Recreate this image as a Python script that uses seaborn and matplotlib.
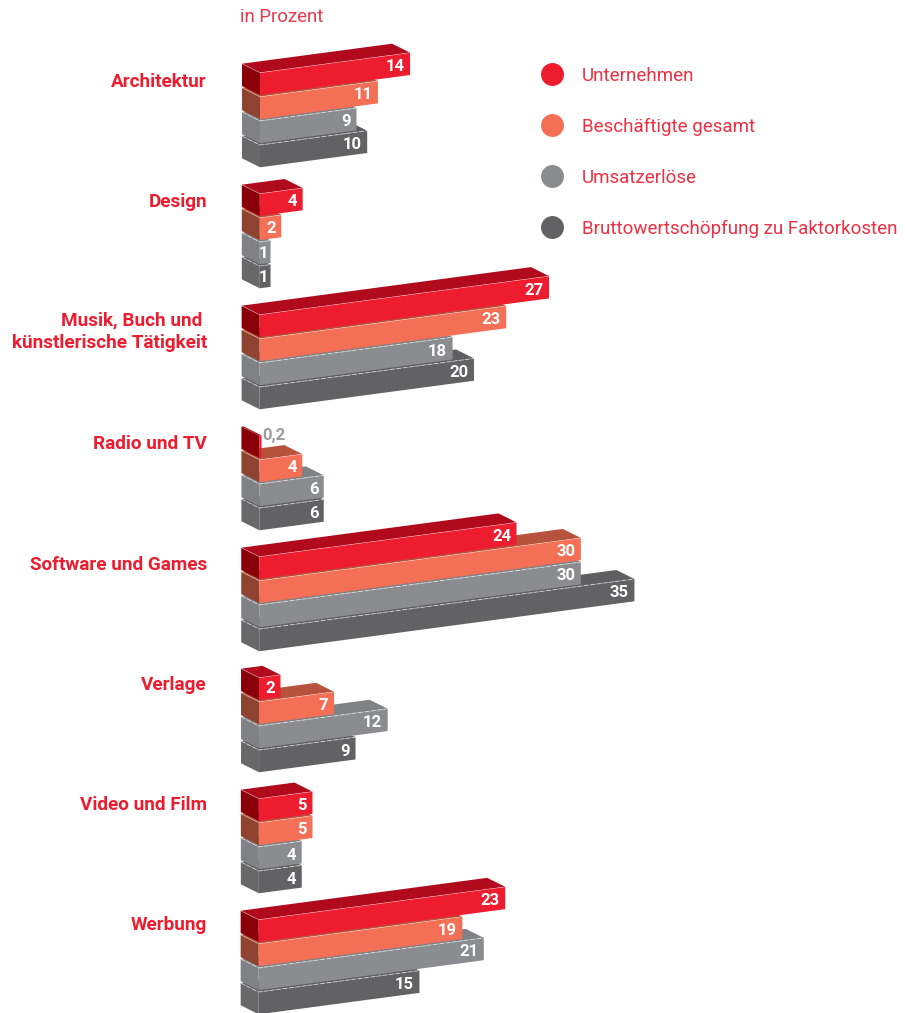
import matplotlib
matplotlib.use("Agg")
import matplotlib.pyplot as plt
from matplotlib.lines import Line2D
from matplotlib.patches import Polygon
from matplotlib.transforms import Affine2D
import pandas as pd
import seaborn as sns

# Anteile der Teilmärkte, in Prozent
kategorien = ["Architektur", "Design", "Musik, Buch und \nkünstlerische Tätigkeit", "Radio und TV",
              "Software und Games", "Verlage", "Video und Film", "Werbung"]
unternehmen = [14, 4, 27, 0.2, 24, 2, 5, 23]
beschaeftigte = [11, 2, 23, 4, 30, 7, 5, 19]
umsatz = [9, 1, 18, 6, 30, 12, 4, 21]
wertschoepfung = [10, 1, 20, 6, 35, 9, 4, 15]

serien = {
    "Unternehmen": unternehmen,
    "Beschäftigte gesamt": beschaeftigte,
    "Umsatzerlöse": umsatz,
    "Bruttowertschöpfung zu Faktorkosten": wertschoepfung,
}
vorne = {"Unternehmen": "#ed1c2e", "Beschäftigte gesamt": "#f36f55",
         "Umsatzerlöse": "#8b8c8f", "Bruttowertschöpfung zu Faktorkosten": "#626264"}
oben = ["#b00a1c", "#b7523c", "#808184", "#5f5f61"]
seite = ["#8a0009", "#8f4230", "#808184", "#68686a"]
akzent = "#ed1c2e"

# Geometrie der Blöcke (Pixel der Zeichenfläche)
PX_JE_EINHEIT = 10.72
X0 = 260.0
Y0 = 72.7
GRUPPE = 121.0
ZEILE = 24.1
HOEHE = 22.3
TIEFE_X = 18.0 / PX_JE_EINHEIT
TIEFE_Y = 9.0
NEIGUNG = -0.1333 * PX_JE_EINHEIT
DRIFT = 0.19 / PX_JE_EINHEIT

sns.set_theme(style="white")
plt.rcParams["font.family"] = ["Roboto", "DejaVu Sans"]

zeilen = []
for s, (name, werte) in enumerate(serien.items()):
    for g, wert in enumerate(werte):
        zeilen.append({"serie": name, "wert": wert, "pos": Y0 + GRUPPE * g + ZEILE * s + HOEHE / 2})
daten = pd.DataFrame(zeilen)

fig = plt.figure(figsize=(9.05, 10.13), dpi=100, facecolor="white")
ax = fig.add_axes([0, 0, 1, 1])

sns.barplot(data=daten, x="wert", y="pos", hue="serie", hue_order=list(serien), palette=vorne,
            orient="h", native_scale=True, dodge=False, width=HOEHE / ZEILE, saturation=1,
            linewidth=0, legend=False, ax=ax)

ax.set_xlim(-X0 / PX_JE_EINHEIT, (905 - X0) / PX_JE_EINHEIT)
ax.set_ylim(1013, 0)
ax.set_axis_off()

for s, container in enumerate(ax.containers):
    for balken in container:
        wert = balken.get_width()
        y1 = balken.get_y()
        y2 = y1 + balken.get_height()
        g = int((y1 - Y0 + 2) // GRUPPE)
        # Scherung der Achse ergibt die perspektivische Schräge; jede Gruppe rückt leicht nach links
        schraeg = Affine2D([[1, 0, -DRIFT * g], [NEIGUNG, 1, 0], [0, 0, 1]]) + ax.transData
        z = 100 - g * 10 - s
        balken.set_transform(schraeg)
        balken.set_zorder(z + 0.5)

        hinten = -TIEFE_Y + NEIGUNG * TIEFE_X
        deckel = [(0, y1), (wert, y1), (wert - TIEFE_X, y1 + hinten), (-TIEFE_X, y1 + hinten)]
        flanke = [(0, y1), (0, y2), (-TIEFE_X, y2 + hinten), (-TIEFE_X, y1 + hinten)]
        ax.add_patch(Polygon(deckel, closed=True, fc=oben[s], ec="none", transform=schraeg, zorder=z))
        ax.add_patch(Polygon(flanke, closed=True, fc=seite[s], ec="none", transform=schraeg, zorder=z + 0.1))

        # Helle Kante zwischen Deckel und Vorderseite
        if wert >= 1:
            stil = (0, (5, 1.5)) if s >= 2 else "-"
            staerke = 0.7 if s >= 2 else 0.4
            kante = [(-TIEFE_X, y1 + hinten), (0, y1), (wert, y1)]
            ax.add_line(Line2D(*zip(*kante), color="white", alpha=0.55, lw=staerke, ls=stil,
                               transform=schraeg, zorder=z + 0.6))

        text = f"{wert:g}".replace(".", ",")
        if wert < 1:
            ax.text(wert + 0.08, (y1 + y2) / 2 - 11, text, ha="left", va="center", color="#9a9b9e",
                    fontsize=12, fontweight="bold", transform=schraeg, zorder=500)
        else:
            abstand = 5.5 if wert > 1 else 2
            ax.text(wert - abstand / PX_JE_EINHEIT, (y1 + y2) / 2 + 2,
                    text, ha="right", va="center", color="white",
                    fontsize=12, fontweight="bold", transform=schraeg, zorder=500)

# Gruppennamen links der Blöcke
beschriftung_y = [82, 202, 332, 444, 565, 685, 805, 925]
for name, y in zip(kategorien, beschriftung_y):
    ax.text((207 - X0) / PX_JE_EINHEIT, y, name, ha="right", va="center", multialignment="right",
            color=akzent, fontsize=13.6, fontweight="bold", linespacing=1.3)

ax.text((240 - X0) / PX_JE_EINHEIT, 17, "in Prozent", ha="left", va="center", color="#e8394d", fontsize=13.4)

griffe = [Line2D([], [], ls="none", marker="o", ms=16.5, mfc=vorne[n], mec="none", label=n) for n in serien]
ax.legend(handles=griffe, loc="upper left", bbox_to_anchor=(531.4 / 905, 1 - 60.9 / 1013), frameon=False,
          fontsize=13.5, labelcolor="#ef2f42", labelspacing=1.765, handletextpad=0.8, handlelength=1.6,
          borderpad=0.3, borderaxespad=0)

fig.savefig("out.png", dpi=100, facecolor="white")
